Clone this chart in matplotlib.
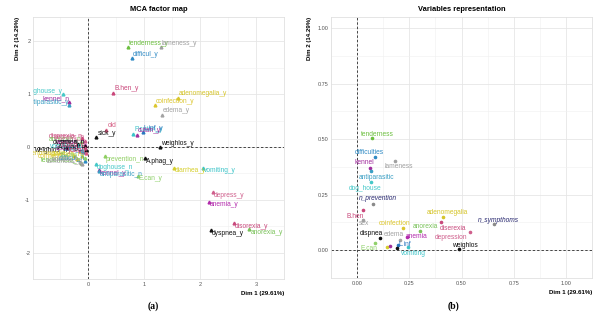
import numpy as np
import matplotlib; matplotlib.use("Agg")
import matplotlib.pyplot as plt

plt.rcParams.update({'font.family': ['Liberation Sans', 'DejaVu Sans'], 'font.size': 5})

# ---- (a) MCA factor map: category coordinates
mca_names = ['tenderness_y', 'lameness_y', 'difficul_y', 'B.hen_y', 'adenomegalia_y', 'coinfection_y',
             'edema_y', 'old', 'sick_y', 'P.cutan_y', 'L.inf_y', 'cutan_y', 'weighlos_y', 'prevention_n',
             'A.phag_y', 'doghouse_n', 'kennel_y', 'antiparasitic_n', 'E.can_y', 'diarrhea_y', 'vomiting_y',
             'depress_y', 'anemia_y', 'disorexia_y', 'anorexia_y', 'dyspnea_y',
             'doghouse_y', 'kennel_n', 'antiparasitic_y',
             'disorexia_n', 'anorexia_n', 'depress_n', 'weighlos_n', 'anemia_n', 'sick_n', 'dyspnea_n',
             'cutan_n', 'L.inf_n', 'vomiting_n', 'adenomegalia_n', 'coinfection_n', 'diarrhea_n',
             'tenderness_n', 'lameness_n', 'difficul_n', 'edema_n', 'E.can_n', 'A.phag_n', 'B.hen_n', 'young']
mca_x = [0.72, 1.30, 0.79, 0.45, 1.60, 1.20,
         1.32, 0.33, 0.15, 0.81, 0.98, 0.88, 1.28, 0.30,
         1.02, 0.14, 0.19, 0.19, 0.89, 1.54, 2.05,
         2.23, 2.16, 2.60, 2.88, 2.20,
         -0.45, -0.33, -0.33,
         -0.10, -0.12, -0.05, -0.37, -0.06, -0.17, -0.05,
         -0.15, -0.08, -0.10, -0.25, -0.20, -0.10,
         -0.12, -0.10, -0.06, -0.15, -0.05, -0.03, -0.05, -0.04]
mca_y = [1.89, 1.89, 1.68, 1.03, 0.93, 0.79,
         0.61, 0.33, 0.18, 0.25, 0.28, 0.23, 0.00, -0.18,
         -0.21, -0.33, -0.44, -0.46, -0.55, -0.39, -0.39,
         -0.86, -1.04, -1.44, -1.56, -1.58,
         1.00, 0.86, 0.79,
         0.16, 0.10, 0.12, -0.02, 0.04, 0.05, 0.02,
         -0.08, -0.10, -0.05, -0.18, -0.22, -0.18,
         -0.30, -0.32, -0.26, -0.28, -0.20, -0.06, -0.02, -0.12]

# ---- (b) Variables representation
var_names = ['tenderness', 'difficulties', 'kennel', 'lameness', 'antiparasitic', 'dog_house', 'n_prevention',
             'B.hen', 'sex', 'adenomegalia', 'diserexia', 'n_sympthoms', 'coinfection', 'anorexia',
             'depression', 'dispnea', 'edema', 'anemia', 'E.can', 'L.inf', 'vomiting', 'weighlos',
             'diarrhea', 'cutan', 'A.phag']
var_x = [0.071, 0.088, 0.062, 0.180, 0.068, 0.066, 0.075,
         0.030, 0.030, 0.410, 0.400, 0.657, 0.220, 0.300,
         0.540, 0.108, 0.204, 0.240, 0.084, 0.197, 0.243, 0.490,
         0.142, 0.159, 0.190]
var_y = [0.506, 0.420, 0.370, 0.400, 0.355, 0.305, 0.210,
         0.180, 0.135, 0.150, 0.125, 0.117, 0.100, 0.088,
         0.080, 0.054, 0.047, 0.058, 0.033, 0.025, 0.013, 0.004,
         0.013, 0.017, 0.008]
var_hidden = ['diarrhea', 'cutan', 'A.phag']   # labels not shown
var_supp = ['n_prevention', 'n_sympthoms']      # supplementary, italic

cols = {'tenderness': '#6cbf3f', 'lameness': '#a0a0a0', 'difficul': '#2f8ac4', 'B.hen': '#c9467a',
        'adenomegalia': '#d6c52a', 'coinfection': '#dcc62e', 'edema': '#a3a3a3', 'old': '#d45a80',
        'young': '#d45a80', 'sick': '#111111', 'P.cutan': '#3cc3c9', 'L.inf': '#2a78c0', 'cutan': '#a0309d',
        'weighlos': '#111111', 'prevention': '#8fcf62', 'A.phag': '#111111', 'doghouse': '#45c8c8',
        'kennel': '#a02a9c', 'antiparasitic': '#3a9fc4', 'E.can': '#8fd06a', 'diarrhea': '#d6cf2c',
        'vomiting': '#3cc4c8', 'depress': '#cf5f8c', 'anemia': '#b22aac', 'disorexia': '#c8497c',
        'anorexia': '#7ac25a', 'dyspnea': '#111111', 'sex': '#a0a0a0', 'supp': '#26266e'}
alias = {'difficulties': 'difficul', 'dog_house': 'doghouse', 'diserexia': 'disorexia',
         'dispnea': 'dyspnea', 'depression': 'depress', 'n_prevention': 'supp', 'n_sympthoms': 'supp'}

def colour(n):
    if n in alias:
        return cols[alias[n]]
    if n in cols:
        return cols[n]
    return cols[n.rsplit('_', 1)[0]]

# label offsets in pixels (dx, dy) for panel b
off_b = {'tenderness': (5, 3), 'difficulties': (-6, 4), 'kennel': (-6, 6), 'lameness': (4, -5),
         'antiparasitic': (5, -6), 'dog_house': (-6, -6), 'n_prevention': (5, 5), 'B.hen': (-8, -6),
         'sex': (1, -3), 'adenomegalia': (5, 4), 'diserexia': (12, -6), 'n_sympthoms': (4, 4),
         'coinfection': (-8, 5), 'anorexia': (6, 4), 'depression': (-19, -5), 'dispnea': (-8, 5),
         'edema': (-6, 5), 'anemia': (9, 1), 'E.can': (-6, -6), 'L.inf': (7, 0), 'vomiting': (6, -6),
         'weighlos': (5, 4)}

PT = 0.72  # px -> pt at 100 dpi

fig = plt.figure(figsize=(6.03, 3.23), dpi=100)
axa = fig.add_axes([33/603, 44/323, 251/603, 262/323])
axb = fig.add_axes([331/603, 45/323, 261/603, 261/323])

def style(ax, title, xt, yt, xl, yl, fmt):
    ax.set_xlim(*xl); ax.set_ylim(*yl)
    ax.set_xticks(xt); ax.set_yticks(yt)
    ax.set_xticklabels([fmt(v) for v in xt]); ax.set_yticklabels([fmt(v) for v in yt])
    mx = [(a + b) / 2 for a, b in zip(xt[:-1], xt[1:])]
    my = [(a + b) / 2 for a, b in zip(yt[:-1], yt[1:])]
    ax.set_xticks([xt[0] - (xt[1] - xt[0]) / 2] + mx + [xt[-1] + (xt[1] - xt[0]) / 2], minor=True)
    ax.set_yticks([yt[0] - (yt[1] - yt[0]) / 2] + my, minor=True)
    ax.grid(True, which='major', color='#e6e6e6', lw=0.6)
    ax.grid(True, which='minor', color='#f0f0f0', lw=0.4)
    ax.set_axisbelow(True)
    ax.tick_params(which='both', length=0, labelsize=4, colors='#555555', pad=2)
    for s in ax.spines.values():
        s.set_color('#e0e0e0'); s.set_linewidth(0.6)
    ax.axhline(0, color='#444444', ls=(0, (2.5, 2)), lw=0.7, zorder=1)
    ax.axvline(0, color='#444444', ls=(0, (2.5, 2)), lw=0.7, zorder=1)
    ax.set_title(title, fontsize=5.4, fontweight='bold', pad=4)
    ax.set_xlabel('Dim 1 (29.61%)', loc='right', fontsize=4.4, fontweight='bold', labelpad=3)
    ax.set_ylabel('Dim 2 (14.29%)', loc='top', fontsize=4.4, fontweight='bold', labelpad=4)

style(axa, 'MCA factor map', [0, 1, 2, 3], [-2, -1, 0, 1, 2], (-0.98, 3.42), (-2.14, 2.46),
      lambda v: f'{v:g}')
style(axb, 'Variables representation', [0, 0.25, 0.5, 0.75, 1.0], [0, 0.25, 0.5, 0.75, 1.0],
      (-0.046, 1.046), (-0.042, 1.05), lambda v: f'{v:.2f}')

# panel a points + labels
for n, x, y in zip(mca_names, mca_x, mca_y):
    c = colour(n)
    axa.plot(x, y, marker='^', ms=2.0, color=c, ls='none', zorder=3)
    if x < 0:
        ha, dx, dy = 'right', 0, 3
    else:
        ha, dx, dy = 'left', 1, (4 if y > 0.1 else -3)
    if n == 'weighlos_y':
        dy = 3
    if n == 'weighlos_n':
        dy = -2
    axa.annotate(n, (x, y), xytext=(dx * PT, dy * PT), textcoords='offset points', ha=ha, va='center',
                 fontsize=4.8, color=c, clip_on=True, annotation_clip=False, zorder=4)

# panel b points + labels
for n, x, y in zip(var_names, var_x, var_y):
    c = colour(n)
    pc = '#8a8a8a' if n in var_supp else c
    axb.plot(x, y, marker='o', ms=1.6, color=pc, ls='none', zorder=3)
    if n in var_hidden:
        continue
    dx, dy = off_b.get(n, (0, 4))
    axb.annotate(n, (x, y), xytext=(dx * PT, dy * PT), textcoords='offset points', ha='center', va='center',
                 fontsize=4.8, color=c, style='italic' if n in var_supp else 'normal',
                 clip_on=True, annotation_clip=False, zorder=4)

fig.text(153/603, 17/323, '(a)', ha='center', va='center', fontsize=7, fontweight='bold',
         family=['Liberation Serif', 'DejaVu Serif'])
fig.text(454/603, 17/323, '(b)', ha='center', va='center', fontsize=7, fontweight='bold',
         family=['Liberation Serif', 'DejaVu Serif'])

fig.savefig('out.png', dpi=100)
